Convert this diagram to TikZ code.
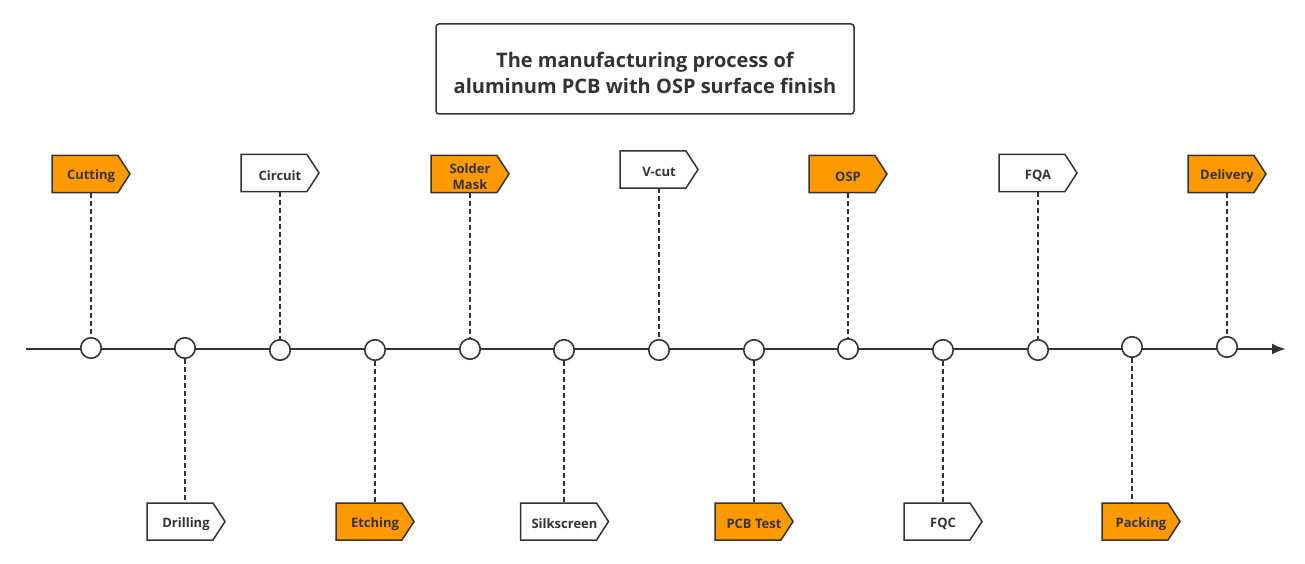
\documentclass[tikz,border=0pt]{standalone}
\usepackage{fontspec}
\setmainfont{Open Sans}
\usetikzlibrary{arrows.meta}
\definecolor{orangefill}{HTML}{FF9900}
\definecolor{edge}{HTML}{333333}
\tikzset{
  tagbox/.style={rectangle, minimum height=37pt, inner sep=0pt},
  tagtext/.style={inner sep=0pt, align=center, font=\bfseries\fontsize{13}{16.5}\selectfont, text=edge},
  dot/.style={circle, draw=edge, fill=white, line width=1.6pt, minimum size=20.5pt, inner sep=0pt},
  tagshape/.style={draw=edge, line width=1.5pt, line join=miter},
  leader/.style={draw=edge, line width=1.3pt, dash pattern=on 5pt off 3pt},
}
% name, x, y, text, fill, half width
\newcommand\steptag[6][39]{%
  \path[tagshape, fill=#6] (#3-#1,#4-18.5) -- (#3+#1-12,#4-18.5) -- (#3+#1,#4) -- (#3+#1-12,#4+18.5) -- (#3-#1,#4+18.5) -- cycle;
  \node[tagbox, minimum width=2*#1 pt] (#2) at (#3,#4) {};
  \node[tagtext] (#2text) at (#3,#4+2.5) {#5};
}
\begin{document}
\begin{tikzpicture}[x=1pt,y=-1pt]
\useasboundingbox (0,0) rectangle (1305,564);
% title
\node[draw=edge, line width=1.5pt, rounded corners=3pt, minimum width=418pt, minimum height=90pt] (title) at (645,69) {};
\node[align=center, inner sep=0pt, font=\bfseries\fontsize{20}{26}\selectfont, text=edge] (titletext) at (645,73) {The manufacturing process of\\aluminum PCB with OSP surface finish};
% axis
\coordinate (start) at (26,349);
\coordinate (end) at (1286,349);
\draw[edge, line width=2.4pt, -{Latex[length=14pt,width=11pt]}] (start) -- (end);
% circles
\node[dot] (c1) at (91,348) {};
\node[dot] (c2) at (185,348) {};
\node[dot] (c3) at (280,350) {};
\node[dot] (c4) at (375,350) {};
\node[dot] (c5) at (470,349) {};
\node[dot] (c6) at (564,350) {};
\node[dot] (c7) at (659,350) {};
\node[dot] (c8) at (754,350) {};
\node[dot] (c9) at (848,349) {};
\node[dot] (c10) at (943,350) {};
\node[dot] (c11) at (1038,350) {};
\node[dot] (c12) at (1132,347) {};
\node[dot] (c13) at (1227,347) {};
% tags
\steptag{t1}{91}{174}{Cutting}{orangefill}
\steptag{t2}{186}{521.5}{Drilling}{white}
\steptag{t3}{280}{173}{Circuit}{white}
\steptag{t4}{375}{521.5}{Etching}{orangefill}
\steptag{t5}{470}{174}{Solder\\Mask}{orangefill}
\steptag[44]{t6}{564.5}{521.5}{Silkscreen}{white}
\steptag{t7}{659}{169.5}{V-cut}{white}
\steptag{t8}{754}{521.5}{PCB Test}{orangefill}
\steptag{t9}{848}{174}{OSP}{orangefill}
\steptag{t10}{943}{521.5}{FQC}{white}
\steptag{t11}{1038}{173}{FQA}{white}
\steptag{t12}{1141}{521.5}{Packing}{orangefill}
\steptag{t13}{1227}{174}{Delivery}{orangefill}
% leaders
\draw[leader] (t1) -- (c1);
\draw[leader] (c2) -- (c2 |- t2.north);
\draw[leader] (t3) -- (c3);
\draw[leader] (c4) -- (t4);
\draw[leader] (t5) -- (c5);
\draw[leader] (c6) -- (c6 |- t6.north);
\draw[leader] (t7) -- (c7);
\draw[leader] (c8) -- (t8);
\draw[leader] (t9) -- (c9);
\draw[leader] (c10) -- (t10);
\draw[leader] (t11) -- (c11);
\draw[leader] (c12) -- (c12 |- t12.north);
\draw[leader] (t13) -- (c13);
\end{tikzpicture}
\end{document}
